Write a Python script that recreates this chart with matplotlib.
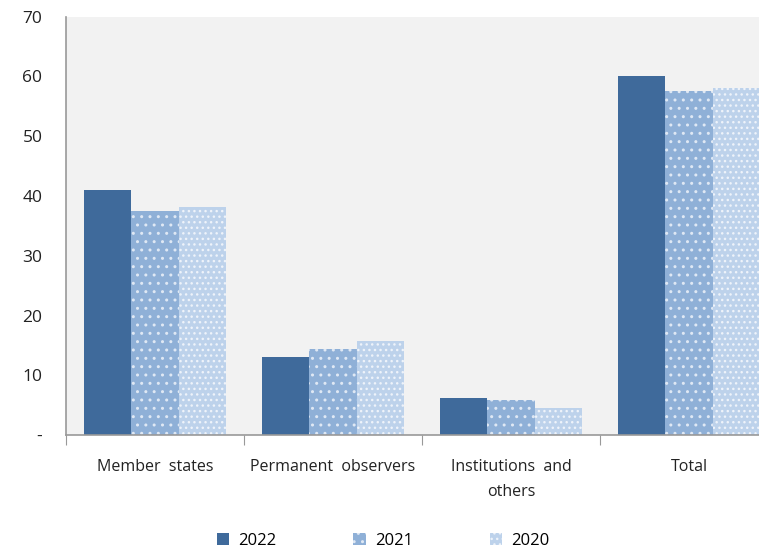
import numpy as np
import matplotlib.pyplot as plt
from matplotlib.patches import Patch

# data
categories = ["Member  states", "Permanent  observers", "Institutions  and\nothers", "Total"]
years = ["2022", "2021", "2020"]
v2022 = [41.0, 13.1, 6.2, 60.0]
v2021 = [37.5, 14.4, 5.9, 57.5]
v2020 = [38.2, 15.7, 4.5, 58.0]
yticks = [0, 10, 20, 30, 40, 50, 60, 70]
ytick_labels = ["-", "10", "20", "30", "40", "50", "60", "70"]

farger = ["#3f6a9b", "#8fb0d7", "#bdd2eb"]
prikkfarge = [None, "#dfe8f4", "#eef3fa"]
skravur = [None, "..", "..."]

plt.rcParams['font.family'] = ['Open Sans', 'DejaVu Sans']
plt.rcParams['hatch.linewidth'] = 1.0

fig = plt.figure(figsize=(7.59, 5.53), dpi=100)
ax = fig.add_axes([0.087, 0.213, 0.913, 0.757])
ax.set_facecolor("#f2f2f2")

x = np.arange(len(categories))
bw = 0.8 / 3
serier = [v2022, v2021, v2020]
for i, verdier in enumerate(serier):
    ax.bar(x - bw + i * bw, verdier, width=bw, color=farger[i],
           edgecolor=prikkfarge[i] if skravur[i] else farger[i],
           linewidth=0, hatch=skravur[i], zorder=2)

ax.set_xlim(-0.5, 3.393)
ax.set_ylim(0, 70)
ax.set_yticks(yticks)
ax.set_yticklabels(ytick_labels, fontsize=12.5, color="#222222")
ax.tick_params(axis="y", length=0, pad=17)

# kategorigrenser som store ticks, navn som små ticks
ax.set_xticks(np.arange(-0.5, 3.5, 1.0))
ax.set_xticklabels([])
ax.tick_params(axis="x", which="major", length=7, color="#999999", direction="out")
ax.set_xticks(x, minor=True)
ax.set_xticklabels(categories, minor=True, fontsize=11.5, color="#222222", linespacing=1.8)
ax.tick_params(axis="x", which="minor", length=0, pad=17)

for s in ["top", "right"]:
    ax.spines[s].set_visible(False)
ax.spines["left"].set_color("#999999")
ax.spines["bottom"].set_color("#999999")
ax.spines["left"].set_linewidth(1.2)
ax.spines["bottom"].set_linewidth(1.2)

handles = [Patch(facecolor=farger[i], edgecolor=prikkfarge[i] if skravur[i] else farger[i],
                 linewidth=0, hatch=skravur[i]) for i in range(3)]
fig.legend(handles, years, loc="lower center", bbox_to_anchor=(0.505, -0.02), ncol=3,
           frameon=False, fontsize=12, handlelength=0.75, handleheight=0.75,
           columnspacing=4.6, handletextpad=0.55)

fig.savefig("out.png", dpi=100)
